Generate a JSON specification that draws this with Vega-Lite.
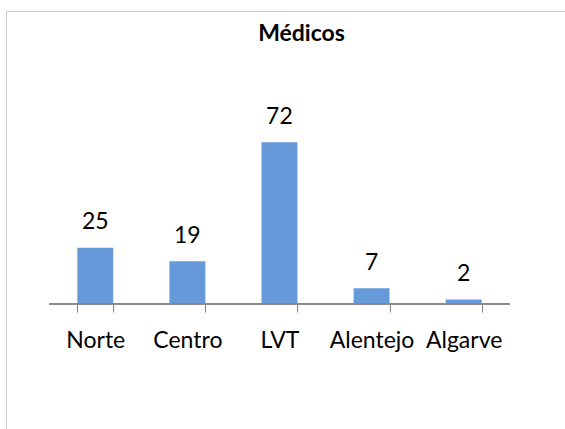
{
  "$schema": "https://vega.github.io/schema/vega-lite/v6.json",
  "autosize": "none",
  "padding": {"left": 6, "top": 11, "right": 0, "bottom": 0},
  "width": 559,
  "height": 418,
  "background": "white",
  "title": {
    "text": "Médicos",
    "font": "Lato",
    "fontSize": 23,
    "fontWeight": "bold",
    "color": "#000000",
    "anchor": "middle",
    "baseline": "alphabetic",
    "offset": 0,
    "dy": 53,
    "dx": 16
  },
  "config": {
    "view": {"stroke": "#c8c8c8", "strokeWidth": 1},
    "font": "Lato"
  },
  "data": {
    "values": [
      {"regiao": "Norte", "valor": 25},
      {"regiao": "Centro", "valor": 19},
      {"regiao": "LVT", "valor": 72},
      {"regiao": "Alentejo", "valor": 7},
      {"regiao": "Algarve", "valor": 2}
    ]
  },
  "encoding": {
    "x": {
      "field": "regiao",
      "type": "nominal",
      "sort": null,
      "scale": {"paddingInner": 0.61, "paddingOuter": 0.84, "align": 0.461},
      "axis": {
        "title": null,
        "labelAngle": 0,
        "labelFont": "Lato",
        "labelFontSize": 23,
        "labelColor": "#000000",
        "labelBaseline": "alphabetic",
        "labelPadding": 35,
        "tickSize": 8,
        "tickColor": "#878787",
        "domain": false,
        "tickBand": "extent",
        "offset": -125,
        "grid": false
      }
    },
    "y": {
      "field": "valor",
      "type": "quantitative",
      "scale": {"domain": [0, 72], "range": [293, 131.3], "nice": false},
      "axis": null
    }
  },
  "layer": [
    {"mark": {"type": "bar", "color": "#6699DA"}},
    {
      "mark": {"type": "text", "baseline": "alphabetic", "dy": -18.5, "font": "Lato", "fontSize": 23, "color": "#000000"},
      "encoding": {"text": {"field": "valor", "type": "quantitative"}}
    },
    {
      "mark": {"type": "rule", "color": "#878787", "strokeWidth": 1},
      "encoding": {
        "x": {"datum": "Norte", "bandPosition": -0.78},
        "x2": {"datum": "Algarve", "bandPosition": 1.78},
        "y": {"datum": 0}
      }
    }
  ]
}
